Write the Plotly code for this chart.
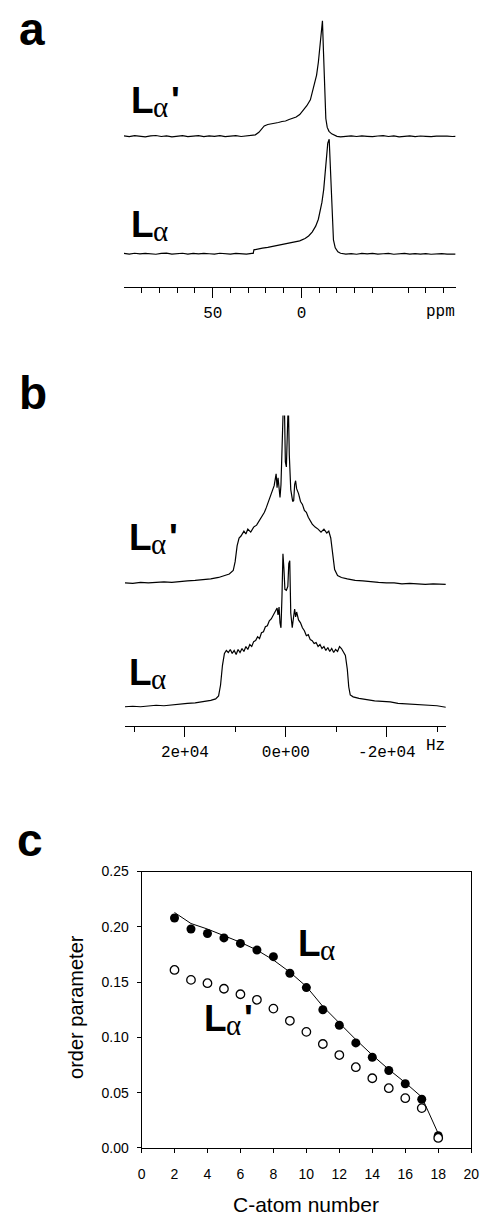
import plotly.graph_objects as go

W, H = 487, 1224


def px(x):
    return x / W


def py(y):
    return 1 - y / H


# ---------------- Panel a : 31P NMR (ppm) ----------------
a_lap_ppm = [100, 97, 94, 91, 88, 85, 82, 79, 76, 73, 70, 67, 64, 61, 58, 55, 52, 49, 46, 43,
             40, 37, 34, 31, 28, 26, 24, 22, 21, 19, 17, 15, 13, 11, 9, 7, 5, 3, 1, -1,
             -3, -5, -7, -8.5, -9.5, -10.5, -11.2, -11.8, -12.4, -13, -13.7, -14.5, -15.5, -17, -18.5, -20, -22,
             -25, -28, -31, -34, -37, -40, -43, -46, -49, -52, -55, -58, -61, -64, -67, -70, -73, -76, -79,
             -82, -85, -86.8]
a_lap_int = [0.5, -0.3, 0.6, 0, -0.5, 0.4, 0.8, -0.2, 0.5, -0.6, 0.3, 0.7, -0.4, 0.2, 0.6, -0.3, 0.5, 0, 0.7, -0.4,
             0.3, 0.6, -0.2, 0.4, 0.8, 1.5, 4, 8, 10.5, 12, 12.5, 13.5, 14, 15, 15.5, 17, 18, 19.5, 22, 26,
             31, 37, 50, 62, 75, 95, 112, 117, 85, 45, 18, 9, 5, 2.5, 1, 0, -0.5,
             -0.3, 0.4, -0.2, 0.5, 0, -0.4, 0.3, 0.6, -0.2, 0.4, -0.5, 0.2, 0.5, -0.3, 0.3, 0, -0.4, 0.2, 0.5,
             0.2, -0.2, 0]

a_la_ppm = [100, 97, 94, 91, 88, 85, 82, 79, 76, 73, 70, 67, 64, 61, 58, 55, 52, 49, 46, 43,
            40, 37, 34, 31, 28, 27.2, 26.8, 25, 22, 19, 16, 13, 10, 7, 4, 1, -2, -4, -6, -8,
            -9.5, -10.5, -11.5, -12.5, -13.3, -14, -14.8, -15.6, -16.2, -17, -18, -19, -20.5, -22,
            -25, -28, -31, -34, -37, -40, -43, -46, -49, -52, -55, -58, -61, -64, -67, -70, -73, -76, -79,
            -82, -85, -86.8]
a_la_int = [0.3, -0.4, 0.5, -0.2, 0.4, 0, -0.5, 0.3, 0.6, -0.3, 0.2, 0.5, -0.4, 0.3, -0.2, 0.4, 0, -0.3, 0.5, 0.2,
            -0.3, 0.4, 0, -0.4, 0.3, 0.3, 4, 4.8, 5.7, 6.5, 7.5, 8.3, 9.5, 10.5, 11.5, 13, 15.5, 18, 22, 28,
            35, 42, 52, 65, 80, 95, 112, 116, 90, 40, 14, 6, 2, 0.5,
            -0.3, 0.2, -0.5, 0.3, -0.2, 0.4, -0.4, 0, 0.3, -0.5, -0.2, 0.3, -0.4, 0.2, -0.3, 0.1, -0.5, -0.2, 0.2,
            -0.4, 0, -0.3]
a_major_ticks = [50, 0]
a_end_ticks = [100, -50]
a_minor_ticks = [90, 80, 70, 60, 40, 30, 20, 10, -10, -20, -30, -40, -60, -70, -80]

# ---------------- Panel b : 2H NMR (Hz) ----------------
b_lap_hz = [31880, 30330, 28790, 27240, 25700, 24150, 22600, 21060, 19510, 17970, 16420, 14880, 13330, 12170,
            11210, 10430, 10050, 9660, 9270, 8890, 8310, 7920, 7540, 6960, 6380, 5800, 5220, 4640, 4250, 3860,
            3480, 3090, 2710, 2320, 1930, 1740, 1550, 1350, 1160, 970, 680, 480, 290, 100, -100, -290, -480,
            -680, -970, -1350, -1550, -1740, -1930, -2130, -2510, -2900, -3280, -3670, -4060, -4440, -4830,
            -5220, -5800, -6380, -6960, -7540, -8110, -8500, -8890, -9270, -9660, -10240, -11010, -12170,
            -13720, -15260, -16810, -18350, -19900, -21450, -22990, -24540, -26080, -27630, -29170, -30720,
            -31690]
b_lap_int = [0.5, 0, 1, 0.5, 1, 1.5, 1, 2, 2.5, 3, 3.5, 4.5, 6, 7.5,
             9.5, 13, 22, 38, 46, 48, 53, 50, 55, 52, 57, 59, 64, 68, 72, 77,
             82, 87, 92, 99, 111, 97, 107, 95, 87, 100, 150, 185, 180, 123, 118, 185, 185,
             130, 95, 83, 84, 100, 104, 96, 91, 83, 80, 74, 72, 67, 63,
             60, 57, 55, 52, 55, 51, 53, 46, 32, 14, 8, 6, 4.5,
             3, 2.5, 1.5, 1, 0.5, 0.5, -0.5, 0, -0.5, -1, -0.5, -1,
             -1]

b_la_hz = [31880, 30330, 28790, 27240, 25700, 24150, 22600, 21060, 19510, 17970, 16420, 14880, 13910, 13330,
           12940, 12560, 12170, 11790, 11400, 11010, 10630, 10240, 9850, 9470, 9080, 8690, 8310, 7920, 7540,
           7150, 6760, 6380, 5990, 5600, 5220, 4830, 4440, 4060, 3670, 3280, 2900, 2510, 2130, 1740, 1550,
           1350, 1160, 970, 770, 580, 390, 190, -100, -390, -580, -770, -970, -1260, -1550, -1740, -1930,
           -2130, -2510, -2900, -3280, -3670, -4060, -4440, -4830, -5220, -5600, -5990, -6380, -6760, -7150,
           -7540, -7920, -8310, -8690, -9080, -9470, -9850, -10240, -10630, -11010, -11400, -11790, -12170,
           -12460, -12750, -13330, -14490, -16040, -17580, -19130, -20670, -22220, -23760, -25310, -26860,
           -28400, -29950, -31690]
b_la_int = [0, 0.5, 0, 1, 1.5, 1, 2, 3, 3.5, 4, 5, 6.5, 8, 11,
            22, 42, 54, 57, 55, 58, 54, 57, 53, 58, 55, 59, 56, 61, 58,
            63, 61, 66, 67, 71, 69, 75, 76, 81, 82, 87, 89, 93, 97, 100, 93,
            101, 85, 80, 112, 155, 140, 119, 118, 122, 145, 148, 95, 80, 92, 99, 91,
            96, 88, 85, 80, 77, 72, 73, 68, 67, 64, 65, 61, 63, 59,
            61, 57, 60, 56, 59, 55, 58, 56, 61, 59, 55, 52, 38,
            20, 12, 10, 8.5, 7, 6, 5.5, 5, 3.5, 3, 2.5, 2,
            1.5, 1, -0.5]
b_major_ticks = [20000, 0, -20000]
b_major_text = ["2e+04", "0e+00", "-2e+04"]
b_minor_ticks = [30000, 10000, -10000, -30000]

# ---------------- Panel c : order parameters ----------------
c_atoms = [2, 3, 4, 5, 6, 7, 8, 9, 10, 11, 12, 13, 14, 15, 16, 17, 18]
s_la = [0.208, 0.198, 0.194, 0.190, 0.185, 0.179, 0.173, 0.158, 0.145, 0.125, 0.111, 0.095, 0.082,
        0.070, 0.058, 0.044, 0.011]
s_lap = [0.161, 0.152, 0.149, 0.144, 0.139, 0.134, 0.126, 0.115, 0.105, 0.094, 0.084, 0.073, 0.063,
         0.054, 0.045, 0.036, 0.009]
fit_la = [0.213, 0.203, 0.198, 0.192, 0.186, 0.179, 0.170, 0.159, 0.146, 0.128, 0.113, 0.098, 0.084,
          0.071, 0.059, 0.046, 0.013]

for xs, ys in [(a_lap_ppm, a_lap_int), (a_la_ppm, a_la_int), (b_lap_hz, b_lap_int), (b_la_hz, b_la_int)]:
    assert len(xs) == len(ys), (len(xs), len(ys))

A_OFF_LAP, A_OFF_LA = 153, 34
B_OFF_LAP, B_OFF_LA = 145, 20

spec_line = dict(color="black", width=1.2)
fig = go.Figure()
fig.add_trace(go.Scatter(x=a_lap_ppm, y=[v + A_OFF_LAP for v in a_lap_int], mode="lines",
                         line=spec_line, xaxis="x", yaxis="y", showlegend=False))
fig.add_trace(go.Scatter(x=a_la_ppm, y=[v + A_OFF_LA for v in a_la_int], mode="lines",
                         line=spec_line, xaxis="x", yaxis="y", showlegend=False))
fig.add_trace(go.Scatter(x=b_lap_hz, y=[v + B_OFF_LAP for v in b_lap_int], mode="lines",
                         line=spec_line, xaxis="x2", yaxis="y2", showlegend=False))
fig.add_trace(go.Scatter(x=b_la_hz, y=[v + B_OFF_LA for v in b_la_int], mode="lines",
                         line=spec_line, xaxis="x2", yaxis="y2", showlegend=False))

fig.add_trace(go.Scatter(x=c_atoms, y=fit_la, mode="lines", line=dict(color="black", width=1),
                         xaxis="x3", yaxis="y3", showlegend=False))
fig.add_trace(go.Scatter(x=c_atoms, y=s_la, mode="markers",
                         marker=dict(symbol="circle", size=9, color="black"),
                         xaxis="x3", yaxis="y3", showlegend=False, cliponaxis=False))
fig.add_trace(go.Scatter(x=c_atoms, y=s_lap, mode="markers",
                         marker=dict(symbol="circle", size=8.5, color="white",
                                     line=dict(color="black", width=1.3)),
                         xaxis="x3", yaxis="y3", showlegend=False, cliponaxis=False))

mono = dict(family="Liberation Mono", size=16, color="black")
sans = dict(family="Liberation Sans", size=14, color="black")
a_dom = [px(123), px(463)]
a_range = [100, -86.8]

fig.update_layout(
    width=W, height=H, margin=dict(l=0, r=0, t=0, b=0),
    paper_bgcolor="white", plot_bgcolor="white",
    xaxis=dict(domain=a_dom, range=a_range, anchor="y",
               showline=True, linecolor="black", linewidth=1, showgrid=False, zeroline=False,
               ticks="outside", ticklen=10, tickcolor="black", tickwidth=1,
               tickmode="array", tickvals=a_major_ticks, ticktext=[str(v) for v in a_major_ticks],
               tickfont=mono, ticklabelstandoff=0,
               minor=dict(tickmode="array", tickvals=a_minor_ticks,
                          ticks="outside", ticklen=5, tickcolor="black", tickwidth=1, showgrid=False)),
    xaxis4=dict(domain=a_dom, range=a_range, anchor="y", overlaying="x",
                showline=False, showgrid=False, zeroline=False, showticklabels=False,
                ticks="outside", ticklen=10, tickcolor="black", tickwidth=1,
                tickmode="array", tickvals=a_end_ticks),
    yaxis=dict(domain=[py(283), py(5)], range=[0, 278], anchor="x", visible=False),
    xaxis2=dict(domain=[px(124), px(453)], range=[31880, -31690], anchor="y2",
                showline=True, linecolor="black", linewidth=1, showgrid=False, zeroline=False,
                ticks="outside", ticklen=10, tickcolor="black", tickwidth=1,
                tickmode="array", tickvals=b_major_ticks, ticktext=b_major_text,
                tickfont=mono,
                minor=dict(tickmode="array", tickvals=b_minor_ticks,
                           ticks="outside", ticklen=5, tickcolor="black", tickwidth=1, showgrid=False)),
    yaxis2=dict(domain=[py(728), py(413)], range=[0, 315], anchor="x2", visible=False),
    xaxis3=dict(domain=[px(141), px(479)], range=[0, 20], anchor="y3",
                showline=True, mirror=True, linecolor="black", linewidth=1, showgrid=False, zeroline=False,
                ticks="outside", ticklen=4, tickcolor="black", tickmode="linear", tick0=0, dtick=2,
                tickfont=sans, ticklabelstandoff=9),
    yaxis3=dict(domain=[py(1155), py(875)], range=[0, 0.25], anchor="x3",
                showline=True, mirror=True, linecolor="black", linewidth=1, showgrid=False, zeroline=False,
                ticks="outside", ticklen=4, tickcolor="black", tickmode="linear", tick0=0, dtick=0.05,
                tickformat=".2f", tickfont=sans, ticklabelstandoff=5),
)


def note(text, x, y, font, xanchor="left", yanchor="bottom", angle=0):
    fig.add_annotation(text=text, x=px(x), y=py(y), xref="paper", yref="paper",
                       xanchor=xanchor, yanchor=yanchor, showarrow=False, textangle=angle,
                       borderpad=0, font=font)


letter_font = dict(family="Liberation Sans", size=46, color="black", weight="bold")
for t, x, y in [("a", 14, 49), ("b", 14, 417), ("c", 12, 870)]:
    note(t, x, y, letter_font)

L_font = dict(family="Liberation Sans", size=37, color="black", weight="bold")
alpha_font = dict(family="Liberation Serif", size=29, color="black")
# (label has prime, L ink-left x, L baseline y)
phase_labels = [
    (True, 132, 108),
    (False, 132, 233),
    (True, 130, 550),
    (False, 130, 687),
    (False, 303, 962),
    (True, 207, 1038),
]
for prime, lx, base in phase_labels:
    note("L", lx - 3, base + 8, L_font)
    note("α", lx + 20, base + 10, alpha_font)
    if prime:
        note("'", lx + 38, base + 8, L_font)

note("ppm", 448, 308, mono, xanchor="center", yanchor="middle")
note("Hz", 442, 748, mono, xanchor="center", yanchor="middle")
note("C-atom number", 310, 1212, dict(family="Liberation Sans", size=21, color="black"),
     xanchor="center", yanchor="middle")
note("order parameter", 74, 1012, dict(family="Liberation Sans", size=20, color="black"),
     xanchor="center", yanchor="middle", angle=-90)

fig.write_html("out.html")
